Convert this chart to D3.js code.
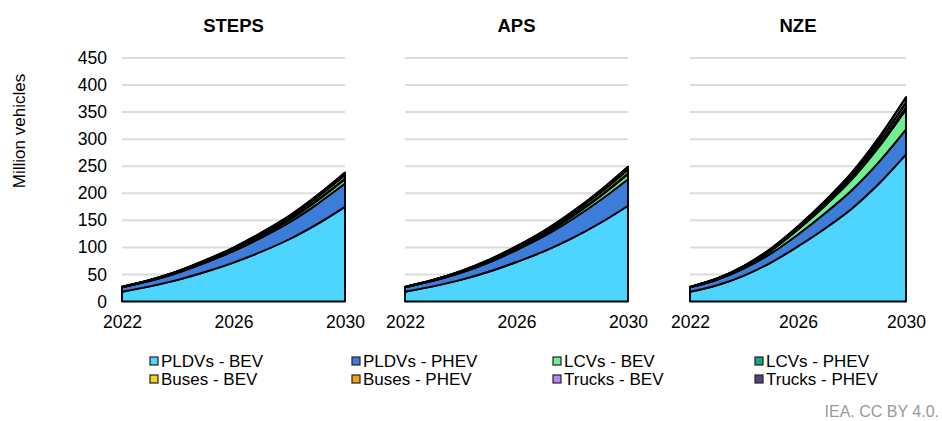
<!DOCTYPE html>
<html lang="en">
<head>
    <meta charset="UTF-8">
    <title>EV stock by scenario</title>
    <style>
        body { margin: 0; background: #fff; }
        svg { font-family: "Liberation Sans", Arial, sans-serif; display: block; }
    </style>
</head>
<body>
    <script src="https://cdnjs.cloudflare.com/ajax/libs/d3/7.8.2/d3.min.js"></script>
    <script>

        const years = [2022, 2023, 2024, 2025, 2026, 2027, 2028, 2029, 2030]
        const xTicks = [2022, 2026, 2030]
        const yTicks = [0, 50, 100, 150, 200, 250, 300, 350, 400, 450]
        const scenarios = ["STEPS", "APS", "NZE"]

        const series = ["PLDVs - BEV", "PLDVs - PHEV", "LCVs - BEV", "LCVs - PHEV",
                        "Buses - BEV", "Buses - PHEV", "Trucks - BEV", "Trucks - PHEV"]
        const couleurs = ["#4dd5ff", "#3b7dd8", "#6ef093", "#11a58e",
                          "#f7d21f", "#f2a20c", "#b48af0", "#5a3f7d"]

        // million vehicles, one array per series, per scenario
        const steps = [
            [18, 28, 40, 55, 72, 92, 115, 143, 175],
            [8, 10, 13, 17, 21, 26, 31, 37, 43],
            [0.3, 0.6, 1, 1.6, 2.4, 3.4, 4.6, 6.2, 8],
            [0.05, 0.1, 0.2, 0.35, 0.5, 0.7, 1, 1.3, 1.6],
            [0.7, 1, 1.4, 1.9, 2.5, 3.3, 4.2, 5.2, 6.3],
            [0.03, 0.05, 0.08, 0.11, 0.15, 0.2, 0.26, 0.33, 0.4],
            [0.07, 0.2, 0.4, 0.7, 1.1, 1.6, 2.2, 2.9, 3.7],
            [0.01, 0.02, 0.04, 0.06, 0.09, 0.13, 0.17, 0.22, 0.3]
        ]
        const aps = [
            [18, 28, 40, 55, 73, 93, 117, 145, 177],
            [8, 10, 13, 17, 22, 28, 35, 42, 49],
            [0.3, 0.6, 1.1, 1.8, 2.7, 3.9, 5.3, 7, 9],
            [0.05, 0.1, 0.2, 0.35, 0.5, 0.75, 1.05, 1.4, 1.8],
            [0.7, 1, 1.4, 1.9, 2.6, 3.4, 4.4, 5.5, 6.8],
            [0.03, 0.05, 0.08, 0.11, 0.15, 0.2, 0.27, 0.35, 0.45],
            [0.07, 0.2, 0.4, 0.7, 1.2, 1.8, 2.6, 3.6, 4.8],
            [0.01, 0.02, 0.04, 0.06, 0.09, 0.13, 0.18, 0.24, 0.3]
        ]
        const nze = [
            [18, 30, 48, 72, 102, 135, 172, 218, 272],
            [8, 10, 13, 17, 22, 28, 34, 40, 46],
            [0.3, 1, 2.5, 5, 9, 14, 20, 28, 37],
            [0.05, 0.2, 0.4, 0.7, 1.1, 1.7, 2.5, 3.4, 4.5],
            [0.7, 1, 1.5, 2.1, 2.9, 3.9, 5.1, 6.5, 8],
            [0.03, 0.05, 0.08, 0.12, 0.18, 0.26, 0.36, 0.48, 0.6],
            [0.07, 0.25, 0.6, 1.1, 1.9, 3, 4.5, 6.5, 9],
            [0.01, 0.03, 0.05, 0.08, 0.13, 0.2, 0.3, 0.42, 0.6]
        ]
        const donnees = [steps, aps, nze]

        const w = 942
        const h = 421

        const svg = d3.select("body")
            .append("svg")
                .attr("width", w)
                .attr("height", h)

        const echelleY = d3.scaleLinear()
            .domain([0, 450])
            .range([301.5, 58])

        // x range of each panel
        const panneaux = [[122, 345], [405, 628], [690, 906]]

        scenarios.forEach((nom, p) => {
            const echelleX = d3.scaleLinear()
                .domain([2022, 2030])
                .range(panneaux[p])

            const g = svg.append("g")

            // grid lines
            g.selectAll("line.grille")
                .data(yTicks.slice(1))
                .enter()
                .append("line")
                    .attr("class", "grille")
                    .attr("x1", panneaux[p][0])
                    .attr("x2", panneaux[p][1])
                    .attr("y1", d => echelleY(d))
                    .attr("y2", d => echelleY(d))
                    .style("stroke", "#dcdcdc")
                    .style("stroke-width", 2)

            // stack rows per year
            const lignes = years.map((an, i) => {
                const o = { an: an }
                series.forEach((s, k) => { o[s] = donnees[p][k][i] })
                return o
            })
            const pile = d3.stack().keys(series)(lignes)

            const aire = d3.area()
                .x(d => echelleX(d.data.an))
                .y0(d => echelleY(d[0]))
                .y1(d => echelleY(d[1]))
                .curve(d3.curveMonotoneX)

            g.selectAll("path.aire")
                .data(pile)
                .enter()
                .append("path")
                    .attr("class", "aire")
                    .attr("d", aire)
                    .style("fill", (d, i) => couleurs[i])
                    .style("stroke", "#000")
                    .style("stroke-width", 1.9)
                    .style("stroke-linejoin", "round")

            // x axis
            const axeX = d3.axisBottom(echelleX)
                .tickValues(xTicks)
                .tickFormat(d3.format("d"))
                .tickSize(0)
                .tickPadding(13)
            const gx = g.append("g")
                .attr("transform", `translate(0,${echelleY(0) + 1})`)
                .call(axeX)
            gx.select(".domain").remove()
            gx.selectAll("text")
                .style("font-size", "17.5px")
                .style("fill", "#000")
                .style("font-family", "Liberation Sans, Arial, sans-serif")

            // title
            g.append("text")
                .attr("x", (panneaux[p][0] + panneaux[p][1]) / 2)
                .attr("y", 32)
                .attr("text-anchor", "middle")
                .style("font-size", "18.5px")
                .style("font-weight", "bold")
                .text(nom)
        })

        // y axis, only on the first panel
        const axeY = d3.axisLeft(echelleY)
            .tickValues(yTicks)
            .tickSize(0)
            .tickPadding(0)
        const gy = svg.append("g")
            .attr("transform", "translate(107,0)")
            .call(axeY)
        gy.select(".domain").remove()
        gy.selectAll("text")
            .style("font-size", "17.5px")
            .style("fill", "#000")
            .style("font-family", "Liberation Sans, Arial, sans-serif")

        svg.append("text")
            .attr("transform", "translate(25,131) rotate(-90)")
            .attr("text-anchor", "middle")
            .style("font-size", "17px")
            .text("Million vehicles")

        // legend, 4 columns x 2 rows
        const colonnesX = [150, 352, 553, 755]
        const leg = svg.selectAll("g.leg")
            .data(series)
            .enter()
            .append("g")
                .attr("class", "leg")
                .attr("transform", (d, i) => `translate(${colonnesX[i % 4]},${i < 4 ? 361 : 379})`)

        leg.append("rect")
            .attr("x", 0)
            .attr("y", -4)
            .attr("width", 8)
            .attr("height", 8)
            .style("fill", (d, i) => couleurs[i])
            .style("stroke", "#222")
            .style("stroke-width", 1.2)

        leg.append("text")
            .attr("x", 11)
            .attr("y", 6)
            .style("font-size", "17px")
            .text(d => d)

        svg.append("text")
            .attr("x", 939)
            .attr("y", 417)
            .attr("text-anchor", "end")
            .style("font-size", "16px")
            .style("fill", "#9a9a9a")
            .text("IEA. CC BY 4.0.")

    </script>
</body>
</html>
